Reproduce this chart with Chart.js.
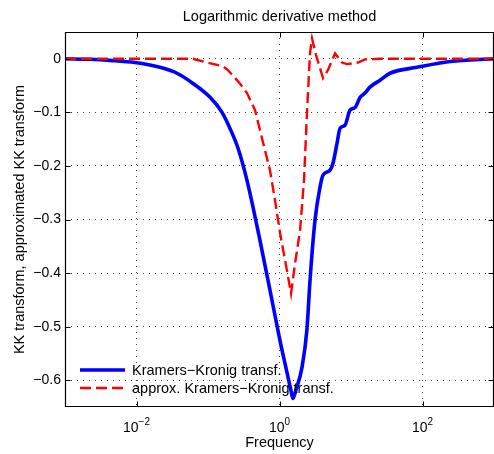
<!DOCTYPE html>
<html><head><meta charset="utf-8">
<script src="https://cdn.jsdelivr.net/npm/chart.js@4/dist/chart.umd.min.js"></script>
<style>html,body{margin:0;padding:0;background:#fff}#wrap{width:494px;height:454px}</style>
</head><body><div id="wrap"><canvas id="c" width="494" height="454"></canvas></div>
<script>
const titleText = 'Logarithmic derivative method';
const xAxisLabel = 'Frequency';
const yAxisLabel = 'KK transform, approximated KK transform';
const seriesNames = ['Kramers\u2212Kronig transf.', 'approx. Kramers\u2212Kronig transf.'];

const kkFreq = [0.001, 0.00224, 0.00426, 0.00953, 0.0213, 0.0368, 0.0617, 0.107, 0.157, 0.203, 0.263, 0.351, 0.533, 0.736, 1.016, 1.27, 1.45, 1.54, 1.70, 2.07, 2.42, 2.67, 3.14, 3.68, 4.06, 5.08, 5.60, 6.37, 7.02, 8.24, 9.68, 11.4, 13.4, 15.7, 18.4, 25.5, 35.1, 83.7, 243, 1000];
const kkValues = [0, -0.001, -0.003, -0.007, -0.016, -0.027, -0.046, -0.072, -0.100, -0.130, -0.167, -0.227, -0.339, -0.432, -0.526, -0.585, -0.620, -0.634, -0.618, -0.575, -0.505, -0.414, -0.301, -0.240, -0.217, -0.208, -0.195, -0.158, -0.130, -0.124, -0.096, -0.091, -0.072, -0.064, -0.053, -0.040, -0.027, -0.016, -0.005, 0];

const approxFreq = [0.001, 0.0617, 0.0968, 0.162, 0.19, 0.279, 0.351, 0.455, 0.533, 0.736, 0.865, 1.02, 1.27, 1.45, 1.65, 1.94, 2.20, 2.42, 2.67, 2.85, 3.24, 4.06, 4.76, 5.98, 7.48, 8.78, 12.5, 15.7, 25.5, 1000];
const approxValues = [0, 0, -0.007, -0.014, -0.021, -0.046, -0.064, -0.096, -0.133, -0.208, -0.264, -0.326, -0.395, -0.438, -0.382, -0.320, -0.227, -0.102, 0.010, 0.038, 0.007, -0.036, -0.021, 0.010, -0.007, -0.010, -0.007, -0.001, 0, 0];

const xTickValues = [0.01, 1, 100];
const xTickExponents = ['\u22122', '0', '2'];
const yTickValues = [0, -0.1, -0.2, -0.3, -0.4, -0.5, -0.6];

const FONT = '"Liberation Sans", Arial, Helvetica, sans-serif';

const framePlugin = {
  id: 'frame',
  afterDraw(chart) {
    const {ctx, chartArea: a, scales: {x, y}} = chart;
    ctx.save();
    ctx.strokeStyle = '#000';
    ctx.lineWidth = 1.2;
    ctx.setLineDash([]);
    const L = Math.round(a.left) + 0.5, R = Math.round(a.right) - 0.5;
    const T = Math.round(a.top) + 0.5, B = Math.round(a.bottom) - 0.5;
    ctx.beginPath();
    ctx.moveTo(L, T); ctx.lineTo(R, T); ctx.lineTo(R, B); ctx.lineTo(L, B); ctx.closePath();
    ctx.stroke();
    ctx.lineWidth = 1;
    ctx.beginPath();
    xTickValues.forEach(v => {
      const px = Math.round(x.getPixelForValue(v)) + 0.5;
      ctx.moveTo(px, B); ctx.lineTo(px, B - 5);
      ctx.moveTo(px, T); ctx.lineTo(px, T + 5);
    });
    yTickValues.forEach(v => {
      const py = Math.round(y.getPixelForValue(v)) + 0.5;
      ctx.moveTo(L, py); ctx.lineTo(L + 5, py);
      ctx.moveTo(R, py); ctx.lineTo(R - 5, py);
    });
    ctx.stroke();

    // x tick labels with superscript exponents
    ctx.fillStyle = '#000';
    ctx.textAlign = 'left';
    ctx.textBaseline = 'alphabetic';
    const base = '14px ' + FONT, sup = '10px ' + FONT;
    xTickValues.forEach((v, i) => {
      const px = x.getPixelForValue(v);
      ctx.font = base; const w1 = ctx.measureText('10').width;
      ctx.font = sup; const w2 = ctx.measureText(xTickExponents[i]).width;
      const start = px - (w1 + w2) / 2;
      ctx.font = base; ctx.fillText('10', start, a.bottom + 25);
      ctx.font = sup; ctx.fillText(xTickExponents[i], start + w1, a.bottom + 18);
    });

    // legend (no box), bottom-left inside the axes
    const rows = [a.bottom - 37, a.bottom - 19];
    chart.data.datasets.forEach((d, i) => {
      const yy = rows[i];
      ctx.strokeStyle = d.borderColor;
      ctx.lineWidth = d.borderWidth;
      ctx.setLineDash(d.borderDash || []);
      ctx.beginPath(); ctx.moveTo(a.left + 15, yy); ctx.lineTo(a.left + 60, yy); ctx.stroke();
      ctx.setLineDash([]);
      ctx.font = '14.5px ' + FONT;
      ctx.textBaseline = 'middle';
      ctx.fillText(d.label, a.left + 67, yy + 1);
    });
    ctx.restore();
  }
};

new Chart(document.getElementById('c'), {
  type: 'line',
  data: {
    datasets: [
      {
        label: seriesNames[0],
        data: kkFreq.map((f, i) => ({x: f, y: kkValues[i]})),
        borderColor: '#0000ff',
        borderWidth: 3.6,
        pointRadius: 0,
        cubicInterpolationMode: 'monotone',
        fill: false,
        order: 1
      },
      {
        label: seriesNames[1],
        data: approxFreq.map((f, i) => ({x: f, y: approxValues[i]})),
        borderColor: '#ff0000',
        borderWidth: 2.4,
        borderDash: [11, 5],
        pointRadius: 0,
        tension: 0,
        fill: false,
        order: 0
      }
    ]
  },
  options: {
    responsive: false,
    animation: false,
    devicePixelRatio: 1,
    layout: {padding: 0},
    plugins: {
      legend: {display: false},
      tooltip: {enabled: false},
      title: {
        display: true,
        text: titleText,
        fullSize: false,
        color: '#000',
        font: {family: FONT, size: 14.5, weight: 'normal', lineHeight: 1.2},
        padding: {top: 8, bottom: 6.6}
      }
    },
    scales: {
      x: {
        type: 'logarithmic',
        min: 0.001,
        max: 1000,
        afterBuildTicks: s => { s.ticks = xTickValues.map(v => ({value: v})); },
        afterFit: s => { s.height = 47; },
        ticks: {display: false},
        grid: {color: 'rgba(0,0,0,0.75)', lineWidth: 1, drawTicks: false},
        border: {display: false, dash: [1, 5]},
        title: {display: true, text: xAxisLabel, color: '#000', font: {family: FONT, size: 14.5}, padding: {top: 0, bottom: 2}}
      },
      y: {
        type: 'linear',
        min: -0.65,
        max: 0.05,
        afterBuildTicks: s => { s.ticks = yTickValues.map(v => ({value: v})); },
        afterFit: s => { s.width = 65; },
        ticks: {
          color: '#000',
          font: {family: FONT, size: 14},
          padding: 4,
          callback: v => v === 0 ? '0' : '\u2212' + Math.abs(v).toFixed(1)
        },
        grid: {color: 'rgba(0,0,0,0.75)', lineWidth: 1, drawTicks: false},
        border: {display: false, dash: [1, 5]},
        title: {display: true, text: yAxisLabel, color: '#000', font: {family: FONT, size: 14.5}, padding: {top: 11, bottom: 0}}
      }
    }
  },
  plugins: [framePlugin]
});
</script>
</body></html>
